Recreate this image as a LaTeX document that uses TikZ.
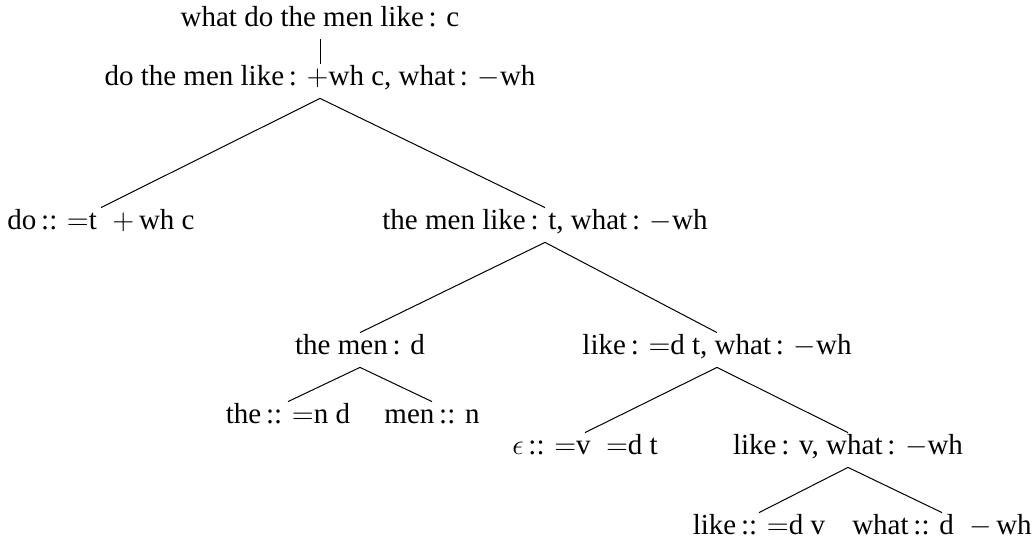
\documentclass[tikz,border=0pt]{standalone}
\usepackage{fontspec}
\setmainfont{Liberation Serif}

\begin{document}
\begin{tikzpicture}[x=0.5pt,y=-0.5pt,
  lbl/.style={anchor=base,inner sep=0pt,text height=11pt,text depth=6pt,font=\fontsize{14.5}{17}\selectfont},
  branch/.style={line width=0.5pt}]
\useasboundingbox (0,0) rectangle (1034,544);
% derivation nodes, baseline placed
\node[lbl] (root) at (320,27) {what do the men like\,: c};
\node[lbl] (dtml) at (320,86) {do the men like\,: $+$wh c, what\,: $-$wh};
\node[lbl] (do) at (101,230) {do\,:: $=$t\; $+$\,wh c};
\node[lbl] (tml) at (545,230) {the men like\,: t, what\,: $-$wh};
\node[lbl] (tm) at (360,355) {the men\,: d};
\node[lbl] (lk) at (717,355) {like\,: $=$d t, what\,: $-$wh};
\node[lbl] (the) at (288,424) {the\,:: $=$n d};
\node[lbl] (men) at (432,424) {men\,:: n};
\node[lbl] (eps) at (585,455) {$\epsilon$\,:: $=$v\; $=$d t};
\node[lbl] (lkv) at (848,455) {like\,: v, what\,: $-$wh};
\node[lbl] (like) at (759,535) {like\,:: $=$d v};
\node[lbl] (what) at (942,535) {what\,:: d\; $-$\,wh};
\foreach \x/\y in {root/dtml,dtml/do,dtml/tml,tml/tm,tml/lk,tm/the,tm/men,lk/eps,lk/lkv,lkv/like,lkv/what} \draw[branch] (\x.south)--(\y.north);
\end{tikzpicture}
\end{document}
